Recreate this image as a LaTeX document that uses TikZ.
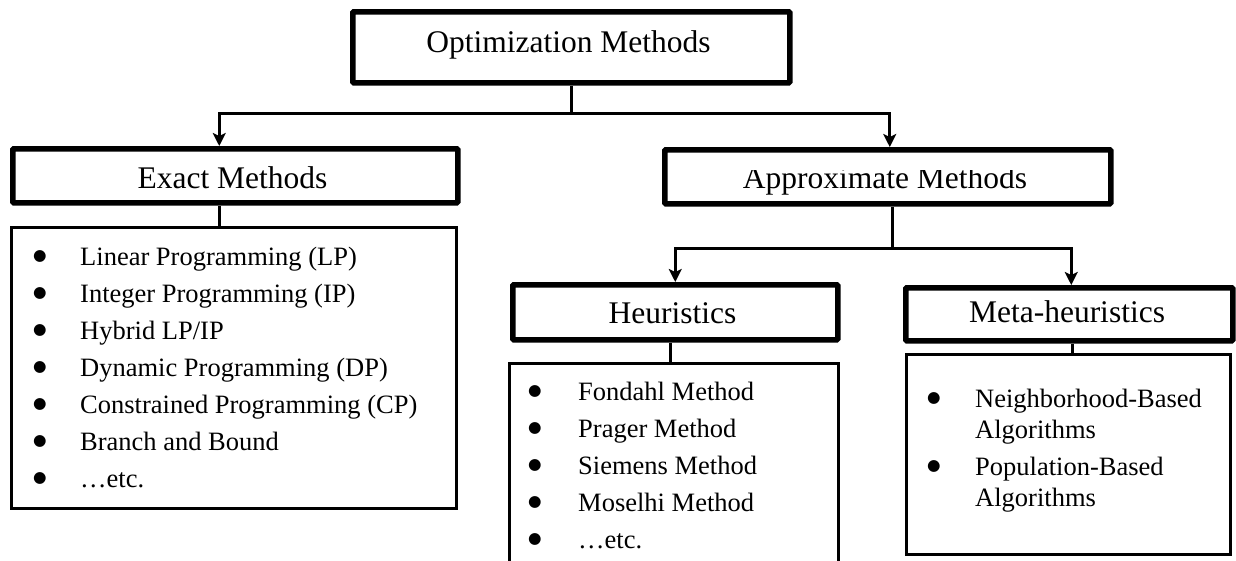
\documentclass[tikz,border=0pt]{standalone}
\usepackage{fontspec}
\setmainfont{Liberation Serif}
\newfontfamily\bulletfont{DejaVu Sans}
\usetikzlibrary{arrows.meta}
% round list bullet, set in a font with a full-size black circle
\newcommand\listbullet{\raisebox{5pt}{\bulletfont\fontsize{15.5}{15.5}\selectfont ●}}
\begin{document}
\begin{tikzpicture}[x=1pt,y=-1pt,
  headbox/.style={draw, line width=5.5pt, rounded corners=1pt, inner sep=0pt, anchor=north west},
  listbox/.style={draw, line width=3pt, inner sep=0pt, anchor=north west},
  headtext/.style={font=\fontsize{31.5}{36}\selectfont, inner sep=0pt, anchor=base},
  listtext/.style={font=\fontsize{26.5}{37}\selectfont, inner sep=0pt, anchor=base west},
  conn/.style={line width=3pt},
  arr/.style={conn, -{Stealth[length=13pt,width=13pt,inset=3pt]}}]

\useasboundingbox (0,0) rectangle (1236,560);

% boxes
\node[headbox, minimum width=437, minimum height=71] (optm)   at (350,9)   {};
\node[headbox, minimum width=445, minimum height=54] (exact)  at (10,146)  {};
\node[listbox, minimum width=445, minimum height=281] (exlist) at (10,226) {};
\node[headbox, minimum width=446, minimum height=54] (approx) at (662,147) {};
\node[headbox, minimum width=325, minimum height=55] (heur)   at (510,282) {};
\node[listbox, draw=none, minimum width=326, minimum height=197] (hlist) at (509,363) {};
\draw[line width=3pt] (hlist.south west) -- (hlist.north west) -- (hlist.north east) -- (hlist.south east);
\node[headbox, minimum width=327, minimum height=53] (meta)   at (903,285) {};
\node[listbox, minimum width=324, minimum height=200] (mlist)  at (905,353) {};

% connectors
\draw[conn] (optm.south) -- ++(0,28) coordinate (split1);
\draw[arr] (split1) -| ([xshift=-16pt]exact.north);
\draw[arr] (split1) -| ([xshift=2pt]approx.north);
\path ([xshift=-16pt]exact.south) coordinate (s1);
\draw[conn] (s1) -- (s1 |- exlist.north);
\draw[conn] ([xshift=5pt]approx.south) -- ++(0,42) coordinate (split2);
\draw[arr] (split2) -| (heur.north);
\draw[arr] (split2) -| ([xshift=2pt]meta.north);
\path ([xshift=-5pt]heur.south) coordinate (s2);
\draw[conn] (s2) -- (s2 |- hlist.north);
\path ([xshift=3pt]meta.south) coordinate (s3);
\draw[conn] (s3) -- (s3 |- mlist.north);

% headings
\node[headtext] (optmt)  at (568.5,52) {Optimization Methods};
\node[headtext] (exactt) at (232.5,188) {Exact Methods};
\begin{scope}
  \clip (662,170) rectangle (1108,201);
  \node[headtext] (approxt) at (885,188) {Approximate Methods};
\end{scope}
\node[headtext] (heurt) at (672.5,323) {Heuristics};
\node[headtext] (metat) at (1067,322) {Meta-heuristics};

% item lists
\node[listtext] (exitems) at (33,265) {\begin{tabular}[t]{@{}p{47pt}@{}l@{}}
  \listbullet & Linear Programming (LP)\\
  \listbullet & Integer Programming (IP)\\
  \listbullet & Hybrid LP/IP\\
  \listbullet & Dynamic Programming (DP)\\
  \listbullet & Constrained Programming (CP)\\
  \listbullet & Branch and Bound\\
  \listbullet & …etc.
\end{tabular}};

\node[listtext] (hitems) at (528,400) {\begin{tabular}[t]{@{}p{50pt}@{}l@{}}
  \listbullet & Fondahl Method\\
  \listbullet & Prager Method\\
  \listbullet & Siemens Method\\
  \listbullet & Moselhi Method\\
  \listbullet & …etc.
\end{tabular}};

\node[listtext, font=\fontsize{26.5}{31}\selectfont] (mitems) at (927,407) {\begin{tabular}[t]{@{}p{48pt}@{}l@{}}
  \listbullet & Neighborhood-Based\\
              & Algorithms\\[6pt]
  \listbullet & Population-Based\\
              & Algorithms
\end{tabular}};
\end{tikzpicture}
\end{document}
